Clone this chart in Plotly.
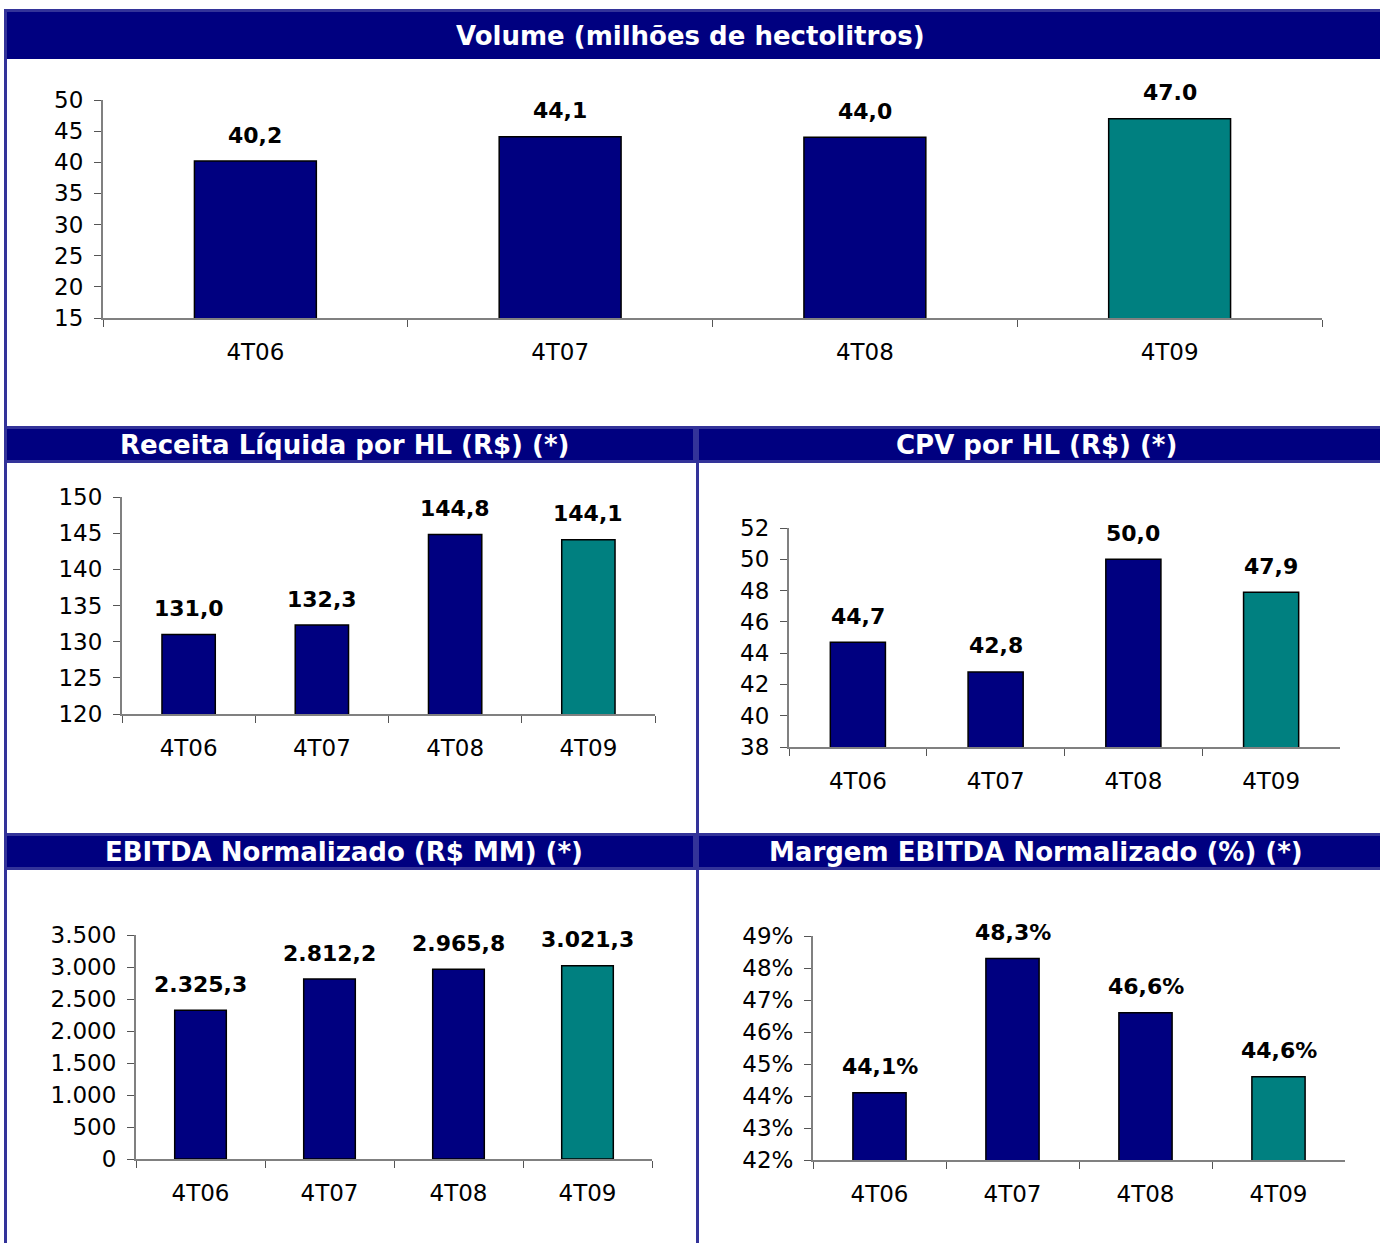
import plotly.graph_objects as go

W, H = 1380, 1243

categories = ["4T06", "4T07", "4T08", "4T09"]

volume = [40.2, 44.1, 44.0, 47.0]
volume_labels = ["40,2", "44,1", "44,0", "47.0"]

receita = [131.0, 132.3, 144.8, 144.1]
receita_labels = ["131,0", "132,3", "144,8", "144,1"]

cpv = [44.7, 42.8, 50.0, 47.9]
cpv_labels = ["44,7", "42,8", "50,0", "47,9"]

ebitda = [2325.3, 2812.2, 2965.8, 3021.3]
ebitda_labels = ["2.325,3", "2.812,2", "2.965,8", "3.021,3"]

margem = [0.441, 0.483, 0.466, 0.446]
margem_labels = ["44,1%", "48,3%", "46,6%", "44,6%"]

titles = [
    "Volume (milhões de hectolitros)",
    "Receita Líquida por HL (R$) (*)",
    "CPV por HL (R$) (*)",
    "EBITDA Normalizado (R$ MM) (*)",
    "Margem EBITDA Normalizado (%) (*)",
]

NAVY = "#000080"
TEAL = "#008080"
BORDER = "#333399"
FONT = "DejaVu Sans"


def px_x(x):
    return x / W


def px_y(y):
    return 1 - y / H


panels = [
    # values, labels, xdom(px), ydom(px), yrange, dtick, tickformat
    (volume, volume_labels, (103, 1322), (100, 318), [15, 50], 5, None),
    (receita, receita_labels, (122, 655), (497, 714), [120, 150], 5, None),
    (cpv, cpv_labels, (789, 1340), (528, 747), [38, 52], 2, None),
    (ebitda, ebitda_labels, (136, 652), (935, 1159), [0, 3500], 500, None),
    (margem, margem_labels, (813, 1345), (936, 1160), [0.42, 0.49], 0.01, ".0%"),
]

fig = go.Figure()
layout = dict(
    width=W, height=H,
    margin=dict(l=0, r=0, t=0, b=0, pad=0, autoexpand=False),
    paper_bgcolor="white", plot_bgcolor="white",
    showlegend=False,
    separators=",.",
    font=dict(family=FONT, color="black"),
)

annotations = []
colors = [NAVY, NAVY, NAVY, TEAL]

for i, (vals, labs, xd, yd, yr, dt, tf) in enumerate(panels):
    n = "" if i == 0 else str(i + 1)
    xa, ya = "x" + n, "y" + n
    fig.add_trace(go.Bar(
        x=categories, y=vals, xaxis=xa, yaxis=ya,
        marker=dict(color=colors, line=dict(color="black", width=1.5)),
        width=0.4, hoverinfo="skip", cliponaxis=False,
    ))
    layout["xaxis" + n] = dict(
        domain=[px_x(xd[0]), px_x(xd[1])], anchor=ya, type="category",
        tickson="boundaries", ticks="outside", ticklen=7, tickwidth=1,
        tickcolor="#555555", showline=True, linecolor="#808080", linewidth=2,
        showgrid=False, zeroline=False, fixedrange=True, automargin=False,
        tickfont=dict(family=FONT, size=23, color="black"),
        ticklabelstandoff=12, range=[-0.5, 3.5],
    )
    yax = dict(
        domain=[px_y(yd[1]), px_y(yd[0])], anchor=xa,
        range=yr, dtick=dt, tick0=yr[0], ticks="outside", ticklen=7,
        tickwidth=1, tickcolor="#555555", showline=True, linecolor="#808080",
        linewidth=2, showgrid=False, zeroline=False, fixedrange=True,
        automargin=False,
        tickfont=dict(family=FONT, size=23, color="black"),
        ticklabelstandoff=6,
    )
    if tf:
        yax["tickformat"] = tf
    if i == 3:
        yax["separatethousands"] = True
    layout["yaxis" + n] = yax
    for c, v, t in zip(categories, vals, labs):
        annotations.append(dict(
            x=c, y=v, xref=xa, yref=ya, text="<b>%s</b>" % t,
            showarrow=False, yanchor="middle", yshift=26,
            font=dict(family=FONT, size=22, color="black"),
        ))

shapes = []


def rect(x0, y0, x1, y1, color):
    shapes.append(dict(type="rect", xref="paper", yref="paper",
                       x0=px_x(x0), x1=px_x(x1), y0=px_y(y1), y1=px_y(y0),
                       fillcolor=color, line=dict(width=0), layer="above"))


# top header
rect(4, 9, W, 59, BORDER)
rect(7, 12, W, 59, NAVY)
# middle header bands
for top in (426, 833):
    rect(4, top, W, top + 37, BORDER)
    rect(7, top + 3, 693, top + 34, NAVY)
    rect(699, top + 3, W, top + 34, NAVY)
# left border
rect(4, 9, 7, H, BORDER)
# middle divider
rect(696, 426, 699, H, BORDER)

# header titles
title_pos = [(690, 36), (344, 445), (1036, 445), (344, 852), (1036, 852)]
for t, (cx, cy) in zip(titles, title_pos):
    annotations.append(dict(
        x=px_x(cx), y=px_y(cy), xref="paper", yref="paper",
        text="<b>%s</b>" % t, showarrow=False,
        xanchor="center", yanchor="middle",
        font=dict(family=FONT, size=26, color="white"),
    ))

layout["annotations"] = annotations
layout["shapes"] = shapes
fig.update_layout(**layout)
fig.write_html("out.html", config={"displayModeBar": False})
